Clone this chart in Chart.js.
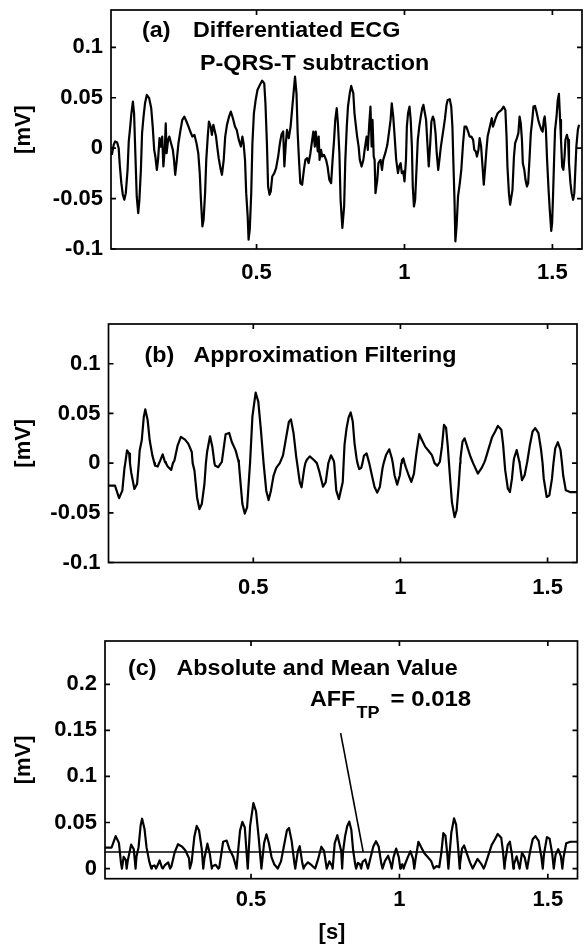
<!DOCTYPE html>
<html>
<head>
<meta charset="utf-8">
<script src="https://cdn.jsdelivr.net/npm/chart.js@4.4.1/dist/chart.umd.min.js"></script>
<style>
  html, body { margin: 0; padding: 0; background: #fff; }
  #page { position: relative; width: 587px; height: 946px; overflow: hidden; }
  #page canvas { position: absolute; left: 0; }
</style>
</head>
<body>
<div id="page">
  <canvas id="chart-a" width="587" height="305" style="top:0"></canvas>
  <canvas id="chart-b" width="587" height="315" style="top:305px"></canvas>
  <canvas id="chart-c" width="587" height="326" style="top:620px"></canvas>
</div>
<script>
// (a) differentiated ECG after P-QRS-T subtraction, time [s] / amplitude [mV]
const timeA = [
  0.011,0.017,0.022,0.029,0.034,0.038,0.043,0.048,0.053,0.058,
  0.064,0.068,0.073,0.077,0.082,0.086,0.091,0.095,0.100,0.104,
  0.109,0.113,0.118,0.123,0.129,0.137,0.144,0.149,0.154,0.158,
  0.163,0.167,0.172,0.176,0.181,0.185,0.190,0.193,0.196,0.201,
  0.205,0.211,0.217,0.221,0.225,0.230,0.236,0.243,0.249,0.256,
  0.263,0.270,0.276,0.283,0.290,0.297,0.303,0.308,0.312,0.317,
  0.321,0.326,0.330,0.335,0.339,0.345,0.349,0.354,0.358,0.363,
  0.367,0.372,0.379,0.383,0.389,0.394,0.400,0.407,0.413,0.420,
  0.427,0.433,0.440,0.447,0.452,0.456,0.461,0.465,0.470,0.473,
  0.477,0.482,0.486,0.491,0.497,0.503,0.511,0.519,0.526,0.530,
  0.535,0.539,0.544,0.548,0.553,0.560,0.566,0.573,0.579,0.584,
  0.590,0.594,0.599,0.603,0.609,0.615,0.620,0.626,0.630,0.635,
  0.639,0.644,0.648,0.654,0.660,0.665,0.671,0.676,0.682,0.688,
  0.692,0.697,0.700,0.703,0.707,0.710,0.713,0.718,0.722,0.728,
  0.735,0.740,0.746,0.752,0.757,0.762,0.766,0.771,0.775,0.780,
  0.784,0.790,0.796,0.800,0.805,0.809,0.815,0.820,0.827,0.831,
  0.836,0.840,0.845,0.849,0.855,0.861,0.866,0.872,0.876,0.881,
  0.885,0.889,0.892,0.896,0.899,0.902,0.908,0.912,0.919,0.924,
  0.928,0.935,0.942,0.948,0.953,0.957,0.962,0.966,0.972,0.978,
  0.982,0.987,0.991,0.996,1.000,1.005,1.008,1.012,1.017,1.021,
  1.025,1.028,1.032,1.036,1.041,1.045,1.050,1.055,1.060,1.064,
  1.069,1.073,1.078,1.082,1.087,1.091,1.096,1.100,1.105,1.109,
  1.114,1.118,1.123,1.128,1.133,1.137,1.142,1.146,1.153,1.158,
  1.162,1.165,1.169,1.172,1.176,1.181,1.187,1.192,1.198,1.203,
  1.209,1.215,1.220,1.226,1.232,1.236,1.241,1.245,1.250,1.254,
  1.259,1.263,1.268,1.272,1.277,1.281,1.286,1.290,1.295,1.299,
  1.303,1.308,1.315,1.321,1.328,1.335,1.341,1.345,1.348,1.353,
  1.357,1.365,1.370,1.374,1.380,1.385,1.389,1.393,1.397,1.400,
  1.405,1.409,1.414,1.418,1.423,1.427,1.432,1.436,1.441,1.446,
  1.452,1.457,1.463,1.467,1.471,1.474,1.478,1.482,1.487,1.491,
  1.496,1.499,1.502,1.506,1.509,1.514,1.518,1.522,1.526,1.529,
  1.533,1.537,1.541,1.544,1.549,1.553,1.556,1.561,1.565,1.570,
  1.574,1.578,1.581,1.586,1.590
];
const ecgA = [
  -0.0066,0.0033,0.0066,0.0056,0.0000,-0.0182,-0.0347,-0.0462,-0.0512,-0.0446,
  -0.0215,0.0066,0.0214,0.0346,0.0462,0.0346,-0.0116,-0.0479,-0.0644,-0.0512,
  -0.0215,0.0148,0.0313,0.0445,0.0528,0.0495,0.0396,0.0214,-0.0017,-0.0083,
  -0.0215,-0.0116,0.0099,0.0016,0.0115,-0.0182,0.0000,0.0247,-0.0050,0.0082,
  0.0115,0.0049,-0.0017,-0.0116,-0.0264,-0.0132,0.0049,0.0181,0.0280,0.0313,
  0.0264,0.0214,0.0165,0.0115,0.0132,0.0049,-0.0050,-0.0248,-0.0512,-0.0776,
  -0.0710,-0.0446,-0.0116,0.0115,0.0264,0.0214,0.0132,0.0231,0.0181,0.0115,
  0.0016,-0.0099,-0.0215,-0.0264,-0.0116,0.0115,0.0231,0.0313,0.0363,0.0297,
  0.0214,0.0181,0.0082,0.0016,0.0115,0.0049,-0.0116,-0.0446,-0.0677,-0.0908,
  -0.0809,-0.0446,0.0049,0.0346,0.0478,0.0577,0.0627,0.0670,0.0643,0.0445,
  0.0049,-0.0380,-0.0462,-0.0429,-0.0281,-0.0248,-0.0198,-0.0083,0.0049,0.0132,
  0.0165,-0.0182,0.0049,0.0181,0.0099,0.0214,0.0379,0.0577,0.0709,0.0544,
  0.0148,-0.0149,-0.0347,-0.0363,-0.0215,-0.0116,-0.0099,-0.0149,-0.0050,0.0082,
  0.0165,0.0016,0.0165,0.0082,-0.0033,0.0115,-0.0116,-0.0017,-0.0083,-0.0066,
  -0.0116,-0.0182,-0.0314,-0.0347,-0.0116,0.0082,0.0280,0.0396,0.0247,-0.0050,
  -0.0512,-0.0792,-0.0578,-0.0116,0.0214,0.0413,0.0544,0.0617,0.0544,0.0346,
  0.0214,0.0115,0.0016,-0.0116,-0.0182,-0.0116,0.0000,0.0115,-0.0017,0.0247,
  0.0412,0.0016,0.0280,-0.0083,-0.0116,-0.0446,-0.0314,-0.0149,-0.0116,-0.0215,
  -0.0116,-0.0050,0.0033,0.0165,0.0280,0.0445,0.0313,0.0148,-0.0116,-0.0248,
  -0.0182,-0.0149,-0.0248,-0.0231,-0.0330,-0.0116,0.0214,0.0346,0.0412,0.0280,
  0.0016,-0.0380,-0.0578,-0.0512,-0.0182,0.0082,0.0214,0.0313,0.0396,0.0429,
  0.0346,0.0280,0.0016,-0.0182,0.0049,0.0264,0.0313,0.0280,0.0148,-0.0050,
  -0.0215,-0.0116,0.0016,0.0115,0.0214,0.0297,0.0429,0.0478,0.0485,0.0412,
  0.0214,-0.0116,-0.0512,-0.0924,-0.0776,-0.0479,-0.0347,-0.0215,0.0049,0.0214,
  0.0214,0.0165,0.0115,0.0115,0.0082,-0.0017,-0.0033,-0.0083,-0.0017,0.0099,
  0.0016,-0.0149,-0.0363,-0.0215,-0.0017,0.0115,0.0181,0.0231,0.0297,0.0214,
  0.0247,0.0297,0.0346,0.0363,0.0379,0.0412,0.0379,0.0115,-0.0182,-0.0446,
  -0.0561,-0.0413,-0.0083,0.0050,0.0099,0.0149,0.0314,0.0248,0.0083,-0.0149,
  -0.0215,-0.0314,-0.0380,-0.0347,-0.0083,0.0149,0.0281,0.0413,0.0419,0.0363,
  0.0281,0.0231,0.0182,0.0165,0.0281,0.0314,0.0182,-0.0116,-0.0413,-0.0611,
  -0.0820,-0.0743,-0.0479,-0.0083,0.0182,0.0314,0.0479,0.0538,0.0281,0.0083,
  -0.0182,-0.0215,-0.0083,0.0083,0.0132,0.0083,-0.0149,-0.0347,-0.0446,-0.0512,
  -0.0446,-0.0182,0.0017,0.0182,0.0231
];

// (b) approximation filtering and (c) its absolute value share one time base
const timeB = [
  0.005,0.030,0.044,0.055,0.062,0.065,0.071,0.078,0.081,0.085,
  0.096,0.105,0.111,0.114,0.121,0.128,0.133,0.141,0.148,0.157,
  0.164,0.166,0.175,0.180,0.184,0.192,0.200,0.203,0.209,0.221,
  0.227,0.232,0.243,0.254,0.268,0.279,0.291,0.294,0.300,0.309,
  0.317,0.325,0.334,0.339,0.343,0.353,0.361,0.368,0.370,0.381,
  0.390,0.393,0.406,0.418,0.427,0.440,0.449,0.451,0.456,0.463,
  0.471,0.479,0.488,0.489,0.497,0.508,0.517,0.526,0.535,0.544,
  0.552,0.560,0.569,0.578,0.590,0.601,0.612,0.621,0.628,0.637,
  0.646,0.649,0.658,0.664,0.673,0.677,0.682,0.692,0.705,0.716,
  0.725,0.737,0.746,0.755,0.764,0.773,0.775,0.782,0.791,0.804,
  0.807,0.810,0.817,0.824,0.831,0.838,0.844,0.851,0.854,0.860,
  0.867,0.871,0.876,0.885,0.894,0.903,0.912,0.921,0.930,0.939,
  0.943,0.951,0.962,0.971,0.974,0.980,0.989,0.998,1.003,1.005,
  1.010,1.014,1.019,1.028,1.037,1.046,1.050,1.055,1.064,1.073,
  1.084,1.096,1.107,1.116,1.125,1.134,1.141,1.148,1.155,1.161,
  1.165,1.168,1.175,1.184,1.191,1.198,1.203,1.204,1.211,1.218,
  1.227,1.238,1.247,1.250,1.263,1.275,1.284,1.288,1.300,1.311,
  1.322,1.331,1.343,1.349,1.354,1.356,1.365,1.372,1.379,1.384,
  1.386,1.395,1.404,1.405,1.413,1.422,1.430,1.431,1.440,1.449,
  1.458,1.469,1.478,1.483,1.487,1.497,1.506,1.515,1.520,1.526,
  1.535,1.544,1.549,1.553,1.562,1.576,1.601
];
const filteredB = [
  -0.0227,-0.0227,-0.0352,-0.0277,-0.0057,0,0.0128,0.0095,0,-0.0091,
  -0.0260,-0.0210,0,0.0128,0.0230,0.0467,0.0541,0.0433,0.0230,0.0078,
  0,-0.0024,-0.0034,0,0.0027,0.0088,0.0010,0,-0.0034,-0.0068,
  0,0.0027,0.0179,0.0264,0.0237,0.0196,0.0112,0,-0.0074,-0.0345,
  -0.0463,-0.0412,-0.0210,0,0.0112,0.0270,0.0162,0,-0.0024,-0.0041,
  0,0.0010,0.0291,0.0304,0.0213,0.0128,0.0027,0,-0.0176,-0.0412,
  -0.0507,-0.0446,-0.0041,0,0.0467,0.0710,0.0619,0.0331,0,-0.0277,
  -0.0372,-0.0277,-0.0125,-0.0047,0,0.0078,0.0264,0.0416,0.0440,0.0298,
  0.0061,0,-0.0193,-0.0243,-0.0057,0,0.0034,0.0068,0.0034,0,
  -0.0091,-0.0237,-0.0193,0,0.0078,0.0027,0,-0.0277,-0.0362,-0.0189,
  0,0.0183,0.0352,0.0460,0.0510,0.0419,0.0199,0.0047,0,-0.0061,
  -0.0047,0,0.0074,0.0098,0,-0.0122,-0.0240,-0.0297,-0.0240,-0.0054,
  0,0.0081,0.0139,0.0047,0,-0.0122,-0.0216,-0.0122,0,0.0030,
  0.0047,0,-0.0047,-0.0122,-0.0189,-0.0105,0,0.0115,0.0291,0.0233,
  0.0166,0.0122,0.0081,0,-0.0027,0.0014,0.0166,0.0385,0.0358,0.0166,
  0,-0.0122,-0.0392,-0.0544,-0.0477,-0.0223,0,0.0047,0.0216,0.0250,
  0.0166,0.0064,0,-0.0020,-0.0105,-0.0054,0,0.0030,0.0149,0.0257,
  0.0318,0.0375,0.0335,0.0183,0,-0.0071,-0.0257,-0.0291,-0.0156,0,
  0.0047,0.0132,0.0014,0,-0.0172,-0.0122,0,0.0014,0.0183,0.0318,
  0.0352,0.0301,0.0132,0,-0.0156,-0.0341,-0.0325,-0.0156,0,0.0149,
  0.0210,0.0132,0,-0.0122,-0.0274,-0.0291,-0.0291
];
const absoluteC = [
  0.0227,0.0227,0.0352,0.0277,0.0057,0,0.0128,0.0095,0,0.0091,
  0.0260,0.0210,0,0.0128,0.0230,0.0467,0.0541,0.0433,0.0230,0.0078,
  0,0.0024,0.0034,0,0.0027,0.0088,0.0010,0,0.0034,0.0068,
  0,0.0027,0.0179,0.0264,0.0237,0.0196,0.0112,0,0.0074,0.0345,
  0.0463,0.0412,0.0210,0,0.0112,0.0270,0.0162,0,0.0024,0.0041,
  0,0.0010,0.0291,0.0304,0.0213,0.0128,0.0027,0,0.0176,0.0412,
  0.0507,0.0446,0.0041,0,0.0467,0.0710,0.0619,0.0331,0,0.0277,
  0.0372,0.0277,0.0125,0.0047,0,0.0078,0.0264,0.0416,0.0440,0.0298,
  0.0061,0,0.0193,0.0243,0.0057,0,0.0034,0.0068,0.0034,0,
  0.0091,0.0237,0.0193,0,0.0078,0.0027,0,0.0277,0.0362,0.0189,
  0,0.0183,0.0352,0.0460,0.0510,0.0419,0.0199,0.0047,0,0.0061,
  0.0047,0,0.0074,0.0098,0,0.0122,0.0240,0.0297,0.0240,0.0054,
  0,0.0081,0.0139,0.0047,0,0.0122,0.0216,0.0122,0,0.0030,
  0.0047,0,0.0047,0.0122,0.0189,0.0105,0,0.0115,0.0291,0.0233,
  0.0166,0.0122,0.0081,0,0.0027,0.0014,0.0166,0.0385,0.0358,0.0166,
  0,0.0122,0.0392,0.0544,0.0477,0.0223,0,0.0047,0.0216,0.0250,
  0.0166,0.0064,0,0.0020,0.0105,0.0054,0,0.0030,0.0149,0.0257,
  0.0318,0.0375,0.0335,0.0183,0,0.0071,0.0257,0.0291,0.0156,0,
  0.0047,0.0132,0.0014,0,0.0172,0.0122,0,0.0014,0.0183,0.0318,
  0.0352,0.0301,0.0132,0,0.0156,0.0341,0.0325,0.0156,0,0.0149,
  0.0210,0.0132,0,0.0122,0.0274,0.0291,0.0291
];

// mean value of (c) and the pointer drawn from its label
const affTP = 0.018;
const pointerTime = [0.802, 0.878];
const pointerValue = [0.147, 0.018];

// ticks
const xTicks = [0.5, 1, 1.5];
const xTickLabels = ['0.5', '1', '1.5'];
const yTicksAB = [-0.1, -0.05, 0, 0.05, 0.1];
const yTickLabelsAB = ['-0.1', '-0.05', '0', '0.05', '0.1'];
const yTicksC = [0, 0.05, 0.1, 0.15, 0.2];
const yTickLabelsC = ['0', '0.05', '0.1', '0.15', '0.2'];

const X_MIN = 0.008, X_MAX = 1.6;
const FONT = '"Liberation Sans", Arial, Helvetica, sans-serif';

Chart.defaults.font.family = FONT;
Chart.defaults.font.size = 22;
Chart.defaults.font.weight = 'bold';
Chart.defaults.color = '#000';

function toPoints(xs, ys) {
  const n = Math.min(xs.length, ys.length);
  const pts = [];
  for (let i = 0; i < n; i++) pts.push({ x: xs[i], y: ys[i] });
  return pts;
}

// box round the plot area with inward ticks on all four sides
const boxTicks = {
  id: 'boxTicks',
  afterDatasetsDraw(chart) {
    const { ctx, chartArea: a, scales: { x, y } } = chart;
    const len = 5;
    ctx.save();
    ctx.strokeStyle = '#000';
    ctx.lineWidth = 1.7;
    ctx.strokeRect(a.left, a.top, a.right - a.left, a.bottom - a.top);
    ctx.beginPath();
    x.ticks.forEach(t => {
      const px = x.getPixelForValue(t.value);
      ctx.moveTo(px, a.bottom); ctx.lineTo(px, a.bottom - len);
      ctx.moveTo(px, a.top); ctx.lineTo(px, a.top + len);
    });
    y.ticks.forEach(t => {
      const py = y.getPixelForValue(t.value);
      ctx.moveTo(a.left, py); ctx.lineTo(a.left + len, py);
      ctx.moveTo(a.right, py); ctx.lineTo(a.right - len, py);
    });
    ctx.stroke();
    ctx.restore();
  }
};

// panel captions, drawn slightly wide like the scanned lettering
function captions(items) {
  return {
    id: 'captions',
    afterDraw(chart) {
      const ctx = chart.ctx;
      items.forEach(it => {
        ctx.save();
        ctx.font = 'bold ' + (it.size || 22) + 'px ' + FONT;
        ctx.fillStyle = '#000';
        ctx.textBaseline = 'alphabetic';
        ctx.textAlign = it.align || 'left';
        ctx.translate(it.x, it.y);
        ctx.scale(it.sx || 1.06, 1);
        ctx.fillText(it.text, 0, 0);
        ctx.restore();
      });
    }
  };
}

function makePanel(id, p) {
  const canvas = document.getElementById(id);
  const h = canvas.height;
  return new Chart(canvas, {
    type: 'line',
    data: { datasets: p.datasets },
    options: {
      responsive: false,
      animation: false,
      layout: { padding: { top: p.box.top, right: 587 - p.box.right, bottom: 0, left: 0 } },
      plugins: { legend: { display: false }, tooltip: { enabled: false } },
      elements: { point: { radius: 0 }, line: { tension: 0, borderJoinStyle: 'round' } },
      scales: {
        x: {
          type: 'linear',
          min: X_MIN,
          max: X_MAX,
          grid: { display: false, drawTicks: false },
          border: { display: false },
          afterBuildTicks: s => { s.ticks = xTicks.map(v => ({ value: v })); },
          afterFit: s => { s.height = h - p.box.bottom; s.paddingLeft = 0; s.paddingRight = 0; },
          ticks: { padding: p.xPad, maxRotation: 0, autoSkip: false, callback: (v, i) => xTickLabels[i] }
        },
        y: {
          type: 'linear',
          min: p.yMin,
          max: p.yMax,
          grid: { display: false, drawTicks: false },
          border: { display: false },
          afterBuildTicks: s => { s.ticks = p.yTicks.map(v => ({ value: v })); },
          afterFit: s => { s.width = p.box.left; s.paddingTop = 0; s.paddingBottom = 0; },
          ticks: { padding: 8, autoSkip: false, callback: (v, i) => p.yLabels[i] },
          title: { display: true, text: '[mV]', padding: { top: 11, bottom: 0 } }
        }
      }
    },
    plugins: [boxTicks, captions(p.captions)]
  });
}

const lineStyle = { borderColor: '#000', backgroundColor: '#000', borderWidth: 2.2, pointRadius: 0, fill: false };

makePanel('chart-a', {
  box: { left: 111, right: 582, top: 10, bottom: 249 },
  yMin: -0.1, yMax: 0.137,
  yTicks: yTicksAB, yLabels: yTickLabelsAB,
  xPad: 11,
  datasets: [Object.assign({ data: toPoints(timeA, ecgA) }, lineStyle)],
  captions: [
    { text: '(a)', x: 142, y: 37 },
    { text: 'Differentiated ECG', x: 193, y: 37 },
    { text: 'P-QRS-T subtraction', x: 200, y: 69.5 }
  ]
});

makePanel('chart-b', {
  box: { left: 108.5, right: 577, top: 19, bottom: 257.5 },
  yMin: -0.1, yMax: 0.14,
  yTicks: yTicksAB, yLabels: yTickLabelsAB,
  xPad: 12,
  datasets: [Object.assign({ data: toPoints(timeB, filteredB) }, lineStyle)],
  captions: [
    { text: '(b)', x: 144.5, y: 56.5 },
    { text: 'Approximation Filtering', x: 193.5, y: 56.5 }
  ]
});

makePanel('chart-c', {
  box: { left: 105, right: 577.5, top: 21, bottom: 258.7 },
  yMin: -0.011, yMax: 0.247,
  yTicks: yTicksC, yLabels: yTickLabelsC,
  xPad: 8,
  datasets: [
    Object.assign({ data: toPoints(timeB, absoluteC) }, lineStyle),
    Object.assign({}, lineStyle, { data: toPoints([X_MIN, X_MAX], [affTP, affTP]), borderWidth: 1.6 }),
    Object.assign({}, lineStyle, { data: toPoints(pointerTime, pointerValue), borderWidth: 1.6 })
  ],
  captions: [
    { text: '(c)', x: 128, y: 55 },
    { text: 'Absolute and Mean Value', x: 176.5, y: 55 },
    { text: 'AFF', x: 310, y: 86 },
    { text: 'TP', x: 356.5, y: 98, size: 17 },
    { text: '= 0.018', x: 390.5, y: 86, sx: 1.09 },
    { text: '[s]', x: 332, y: 319, align: 'center', sx: 1 }
  ]
});
</script>
</body>
</html>
